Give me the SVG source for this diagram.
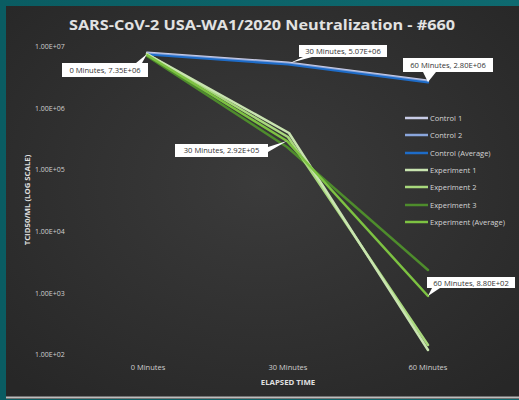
<svg xmlns="http://www.w3.org/2000/svg" width="519" height="400" viewBox="0 0 519 400">
<defs>
<linearGradient id="teal" x1="0" y1="0" x2="1" y2="0">
<stop offset="0" stop-color="#0a5c62"/>
<stop offset="1" stop-color="#0e6a70"/>
</linearGradient>
<radialGradient id="bg" cx="0.5" cy="0.45" r="0.7">
<stop offset="0" stop-color="#3b3b3b"/>
<stop offset="1" stop-color="#272727"/>
</radialGradient>
</defs>
<style>
text{font-family:"Open Sans","Liberation Sans",sans-serif;}
.ax{fill:#cfcfcf;font-size:7px;}
.xl{fill:#cfcfcf;font-size:7.5px;}
.tt{fill:#e0e0e0;font-size:7.8px;font-weight:bold;}
.lg{fill:#d4d4d4;font-size:7.5px;}
.dl{fill:#333;font-size:7.6px;}
.box{fill:#ffffff;}
.ln{fill:none;stroke-linejoin:round;stroke-linecap:round;}
</style>
<rect width="519" height="400" fill="url(#teal)"/>
<rect x="6" y="6" width="513" height="393" fill="url(#bg)"/>
<line x1="6" y1="397.5" x2="519" y2="397.5" stroke="#bdbdbd" stroke-width="2"/>
<text x="262" y="30" text-anchor="middle" fill="#e2e2e2" font-size="15" font-weight="bold" textLength="386" lengthAdjust="spacingAndGlyphs">SARS-CoV-2 USA-WA1/2020 Neutralization - #660</text>
<g id="y-axis">
<text class="ax" x="35" y="48.5">1.00E+07</text>
<text class="ax" x="35" y="110.5">1.00E+06</text>
<text class="ax" x="35" y="172">1.00E+05</text>
<text class="ax" x="35" y="233.5">1.00E+04</text>
<text class="ax" x="35" y="295.5">1.00E+03</text>
<text class="ax" x="35" y="357">1.00E+02</text>
<text class="tt" transform="translate(29.5,200) rotate(-90)" text-anchor="middle">TCID50/ML (LOG SCALE)</text>
</g>
<g id="x-axis">
<text class="xl" x="148" y="369.5" text-anchor="middle">0 Minutes</text>
<text class="xl" x="288" y="369.5" text-anchor="middle">30 Minutes</text>
<text class="xl" x="428" y="369.5" text-anchor="middle">60 Minutes</text>
<text class="tt" x="288" y="384.5" text-anchor="middle" font-size="8.2">ELAPSED TIME</text>
</g>
<g id="connectors">
<polyline class="ln" points="147,52.5 288,62.5 428,80.5" stroke="#c8cce6" stroke-width="2.2"/>
<polyline class="ln" points="147,53.5 288,63.5 428,81.5" stroke="#8aa6dc" stroke-width="2.2"/>
<polyline class="ln" points="147,54.5 288,64.5 428,82.5" stroke="#1e6cc8" stroke-width="2.2"/>
<polyline class="ln" points="147,56 287,147 428,270" stroke="#4e8c2c" stroke-width="2.5"/>
<polyline class="ln" points="147,54 288,137 428,345" stroke="#a8d87c" stroke-width="2.5"/>
<polyline class="ln" points="147,54 289,133 428,350" stroke="#c9e4b0" stroke-width="2.5"/>
<polyline class="ln" points="147,55 287,141 428,296" stroke="#7dc242" stroke-width="2.5"/>
</g>
<g id="label-0min">
<path class="box" d="M62,63 H136 L147,54 L142,63 H148 V77 H62 Z"/>
<text class="dl" x="105" y="72.8" text-anchor="middle">0 Minutes, 7.35E+06</text>
</g>
<g id="label-30min-control">
<path class="box" d="M299,45 H387 V57 H312 L290,63 L303,57 H299 Z"/>
<text class="dl" x="343" y="53.8" text-anchor="middle">30 Minutes, 5.07E+06</text>
</g>
<g id="label-60min-control">
<path class="box" d="M403,58 H493 V72 H436 L428,82 L423,72 H403 Z"/>
<text class="dl" x="448" y="67.8" text-anchor="middle">60 Minutes, 2.80E+06</text>
</g>
<g id="label-30min-exp">
<path class="box" d="M175,144 H268 V147 L287,141 L268,152 V157 H175 Z"/>
<text class="dl" x="221.5" y="153.3" text-anchor="middle">30 Minutes, 2.92E+05</text>
</g>
<g id="label-60min-exp">
<path class="box" d="M427,277 H515 V288 H440 L428,296 L432,288 H427 Z"/>
<text class="dl" x="471" y="285.6" text-anchor="middle">60 Minutes, 8.80E+02</text>
</g>
<g id="legend">
<line x1="405" y1="118" x2="428" y2="118" stroke="#c8cce6" stroke-width="2.5"/>
<text class="lg" x="430" y="120.7">Control 1</text>
<line x1="405" y1="135" x2="428" y2="135" stroke="#8aa6dc" stroke-width="2.5"/>
<text class="lg" x="430" y="137.7">Control 2</text>
<line x1="405" y1="153" x2="428" y2="153" stroke="#1e6cc8" stroke-width="2.5"/>
<text class="lg" x="430" y="155.7">Control (Average)</text>
<line x1="405" y1="170" x2="428" y2="170" stroke="#c9e4b0" stroke-width="2.5"/>
<text class="lg" x="430" y="172.7">Experiment 1</text>
<line x1="405" y1="187" x2="428" y2="187" stroke="#a8d87c" stroke-width="2.5"/>
<text class="lg" x="430" y="189.7">Experiment 2</text>
<line x1="405" y1="205" x2="428" y2="205" stroke="#4e8c2c" stroke-width="2.5"/>
<text class="lg" x="430" y="207.7">Experiment 3</text>
<line x1="405" y1="222" x2="428" y2="222" stroke="#7dc242" stroke-width="2.5"/>
<text class="lg" x="430" y="224.7">Experiment (Average)</text>
</g>
</svg>
